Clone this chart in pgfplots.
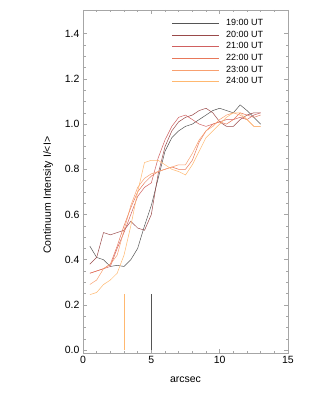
\documentclass[border=0pt]{standalone}
\usepackage{pgfplots}
\pgfplotsset{compat=1.18}
\usepackage{fontspec}
\setmainfont{Liberation Sans}
\definecolor{c19}{HTML}{555555}
\definecolor{c20}{HTML}{9A4A4A}
\definecolor{c21}{HTML}{D06060}
\definecolor{c22}{HTML}{E8785A}
\definecolor{c23}{HTML}{F8A070}
\definecolor{c24}{HTML}{FFB870}
\begin{document}
\begin{tikzpicture}
\useasboundingbox (-83pt,-40pt) rectangle (231pt,353pt);
\begin{axis}[
  scale only axis, width=205pt, height=343pt,
  xmin=0, xmax=15, ymin=-0.013, ymax=1.505,
  xtick={0,5,10,15}, minor x tick num=4,
  ytick={0,0.2,...,1.41}, minor y tick num=3,
  yticklabel style={/pgf/number format/.cd,fixed,fixed zerofill,precision=1},
  /pgf/number format/assume math mode=true,
  tick align=inside, tick pos=both,
  major tick length=4pt, minor tick length=2.5pt,
  axis line style={gray!70, line width=0.8pt},
  every tick/.style={gray!70, line width=0.5pt},
  tick label style={font=\fontsize{10.5}{12}\selectfont, black},
  xlabel={arcsec}, ylabel={Continuum Intensity I/<I>},
  label style={font=\fontsize{10.5}{12}\selectfont},
  xlabel style={yshift=-6pt},
  ylabel style={at={(axis description cs:-0.17,0.46)}, anchor=center},
  legend style={draw=none, fill=none, at={(axis description cs:0.434,0.978)}, anchor=north west,
    font=\fontsize{9}{10}\selectfont, row sep=0.9pt, inner sep=0pt, nodes={inner sep=1.5pt}},
  legend cell align=left,
  legend image code/.code={\draw[#1] (0pt,0pt) -- (47pt,0pt);},
  /tikz/every odd column/.append style={column sep=5pt},
  every axis plot/.append style={line width=0.5pt},
]
\addplot[c19] coordinates {(0.5,0.46)(1.0,0.41)(1.5,0.40)(2.0,0.37)(2.5,0.375)(3.0,0.37)(3.5,0.40)(4.0,0.45)(4.5,0.55)(5.0,0.64)(5.5,0.76)(6.0,0.88)(6.5,0.94)(7.0,0.97)(7.5,0.99)(8.0,1.00)(8.5,1.02)(9.0,1.04)(9.5,1.06)(10.0,1.07)(10.5,1.06)(11.0,1.05)(11.5,1.085)(12.0,1.06)(12.5,1.03)(13.0,1.00)};
\addlegendentry{19:00 UT}
\addplot[c20] coordinates {(0.5,0.38)(1.0,0.41)(1.5,0.52)(2.0,0.51)(2.5,0.52)(3.0,0.53)(3.5,0.57)(4.0,0.54)(4.5,0.53)(5.0,0.60)(5.5,0.78)(6.0,0.90)(6.5,0.97)(7.0,1.01)(7.5,1.03)(8.0,1.04)(8.5,1.06)(9.0,1.07)(9.5,1.05)(10.0,1.01)(10.5,0.99)(11.0,0.99)(11.5,1.02)(12.0,1.04)(12.5,1.05)(13.0,1.05)};
\addlegendentry{20:00 UT}
\addplot[c21] coordinates {(0.5,0.34)(1.0,0.35)(1.5,0.36)(2.0,0.37)(2.5,0.45)(3.0,0.52)(3.5,0.60)(4.0,0.68)(4.5,0.72)(5.0,0.74)(5.5,0.85)(6.0,0.93)(6.5,0.99)(7.0,1.03)(7.5,1.04)(8.0,1.02)(8.5,1.00)(9.0,0.99)(9.5,1.00)(10.0,1.01)(10.5,1.02)(11.0,1.02)(11.5,1.03)(12.0,1.02)(12.5,1.04)(13.0,1.05)};
\addlegendentry{21:00 UT}
\addplot[c22] coordinates {(0.5,0.34)(1.0,0.35)(1.5,0.36)(2.0,0.38)(2.5,0.46)(3.0,0.55)(3.5,0.63)(4.0,0.70)(4.5,0.74)(5.0,0.77)(5.5,0.79)(6.0,0.80)(6.5,0.81)(7.0,0.80)(7.5,0.80)(8.0,0.84)(8.5,0.92)(9.0,0.97)(9.5,1.00)(10.0,1.01)(10.5,1.00)(11.0,1.02)(11.5,1.05)(12.0,1.04)(12.5,1.03)(13.0,1.04)};
\addlegendentry{22:00 UT}
\addplot[c23] coordinates {(0.5,0.29)(1.0,0.31)(1.5,0.36)(2.0,0.38)(2.5,0.42)(3.0,0.53)(3.5,0.64)(4.0,0.72)(4.5,0.76)(5.0,0.78)(5.5,0.79)(6.0,0.80)(6.5,0.81)(7.0,0.82)(7.5,0.82)(8.0,0.87)(8.5,0.93)(9.0,0.97)(9.5,0.99)(10.0,1.02)(10.5,1.04)(11.0,1.05)(11.5,1.04)(12.0,1.02)(12.5,0.99)(13.0,0.99)};
\addlegendentry{23:00 UT}
\addplot[c24] coordinates {(0.5,0.245)(1.0,0.255)(1.5,0.29)(2.0,0.31)(2.5,0.34)(3.0,0.42)(3.5,0.55)(4.0,0.70)(4.5,0.83)(5.0,0.84)(5.5,0.84)(6.0,0.82)(6.5,0.80)(7.0,0.79)(7.5,0.775)(8.0,0.82)(8.5,0.88)(9.0,0.94)(9.5,0.97)(10.0,1.00)(10.5,1.03)(11.0,1.05)(11.5,1.05)(12.0,1.02)(12.5,0.99)(13.0,0.99)};
\addlegendentry{24:00 UT}
\addplot[c24, forget plot] coordinates {(3,0)(3,0.25)};
\addplot[c19, forget plot] coordinates {(5,0)(5,0.25)};
\end{axis}
\end{tikzpicture}
\end{document}
